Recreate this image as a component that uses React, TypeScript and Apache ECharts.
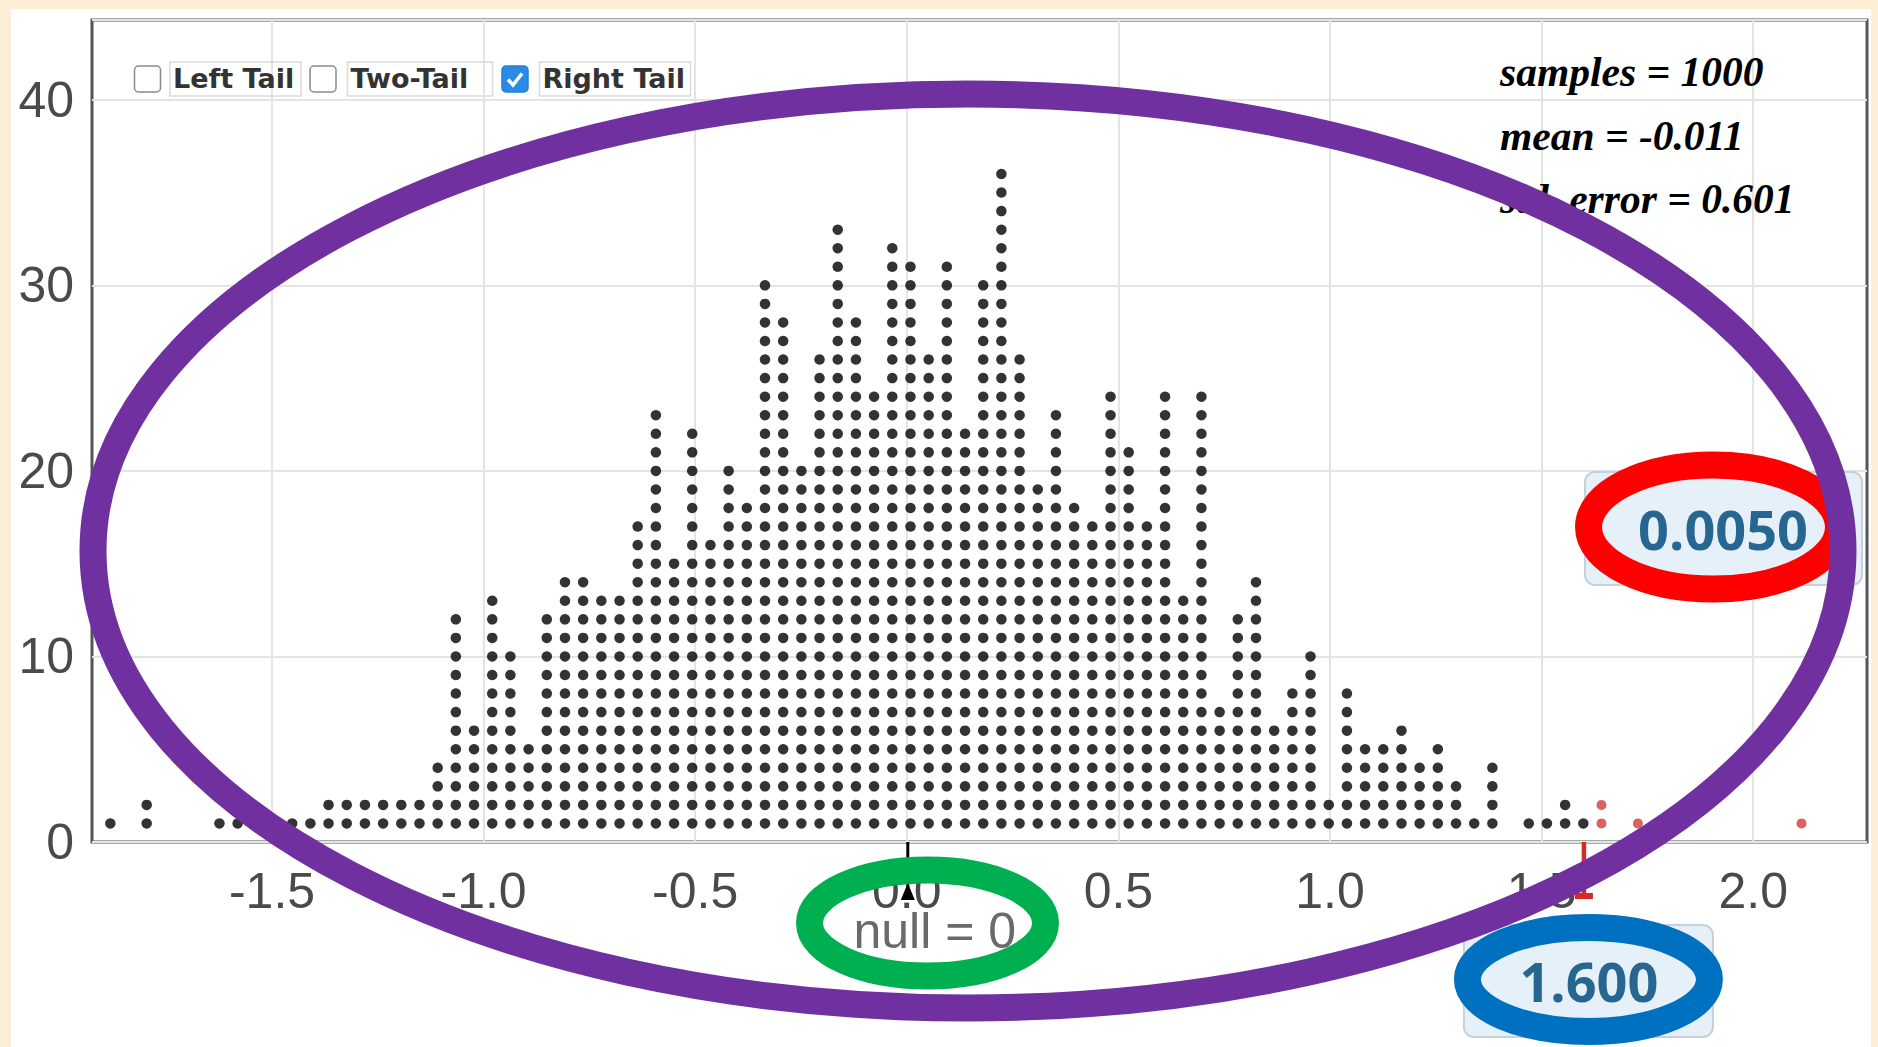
import React, { useEffect, useRef } from "react";
import * as echarts from "echarts";

// ---- data --------------------------------------------------------------
// Dot plot of 1000 resampled statistics: dots stacked per bin.
const BIN_START = -1.882; // centre of the first bin
const BIN_WIDTH = 0.04297; // width of one bin (one dot across)
const BIN_COUNTS = [
  1, 0, 2, 0, 0, 0, 1, 1, 1, 0, 1, 1, 2, 2, 2, 2, 2, 2, 4, 12, 6,
  13, 10, 5, 12, 14, 14, 13, 13, 17, 23, 15, 22, 16, 20, 18, 30, 28, 20, 26,
  33, 28, 24, 32, 31, 26, 31, 22, 30, 36, 26, 19, 23, 18, 17, 24, 21, 17, 24,
  13, 24, 7, 12, 14, 6, 8, 10, 2, 8, 5, 5, 6, 4, 5, 3, 1, 4, 0, 1,
  1, 2, 1, 2, 0, 1, 0, 1, 0, 0, 0, 0, 0, 0, 1,
];
const NULL_VALUE = 0;
const OBSERVED = 1.6;
const MEAN_TEXT = "-0.011";
const STD_ERROR_TEXT = "0.601";
const X_LABEL_RANGE = [-1.5, 2.0];
const Y_MAX = 44.3;
const TAIL_OPTIONS = [
  { label: "Left Tail", checked: false },
  { label: "Two-Tail", checked: false },
  { label: "Right Tail", checked: true },
];

// ---- derived series ------------------------------------------------------
const blackDots: number[][] = [];
const redDots: number[][] = [];
BIN_COUNTS.forEach((n, i) => {
  const x = +(BIN_START + i * BIN_WIDTH).toFixed(4);
  for (let k = 1; k <= n; k++) {
    (x >= OBSERVED ? redDots : blackDots).push([x, k]);
  }
});
const TOTAL = blackDots.length + redDots.length;
const P_VALUE = (redDots.length / TOTAL).toFixed(4);
const STATS_LINES = [
  `samples = ${TOTAL}`,
  `mean = ${MEAN_TEXT}`,
  `std. error = ${STD_ERROR_TEXT}`,
];

const GRID_LINE = "#e4e4e4";
const TICK_FONT = "Liberation Sans";
// the chart surface is wider than the page so the -2.0 … 2.5 data grid fits
const CHART_W = 1980;
const PAGE_W = 1878;
const PAGE_H = 1047;

function baseOption(): echarts.EChartsCoreOption {
  return {
    animation: false,
    backgroundColor: "transparent",
    grid: [
      // data grid: runs from the -2.0 tick to the 2.5 tick (both outside the frame)
      { left: 60.4, top: 20, width: 1904.4, height: 822, show: false },
      // visible plot frame
      {
        left: 92,
        top: 20,
        width: 1775,
        height: 822,
        show: true,
        borderColor: "#555",
        borderWidth: 3,
        backgroundColor: "transparent",
      },
    ],
    xAxis: [
      {
        type: "value",
        gridIndex: 0,
        min: -2,
        max: 2.5,
        interval: 0.5,
        axisLine: { show: false },
        axisTick: { show: false },
        axisLabel: {
          showMinLabel: false,
          showMaxLabel: false,
          margin: 24,
          fontSize: 50,
          lineHeight: 50,
          fontFamily: TICK_FONT,
          color: "#4a4a4a",
          formatter: (v: number) =>
            v < X_LABEL_RANGE[0] - 0.01 || v > X_LABEL_RANGE[1] + 0.01 ? "" : v.toFixed(1),
        },
        splitLine: {
          show: true,
          showMinLine: false,
          showMaxLine: false,
          lineStyle: { color: GRID_LINE, width: 2 },
        },
      },
      { type: "value", gridIndex: 1, min: 0, max: 1, show: false },
    ],
    yAxis: [
      { type: "value", gridIndex: 0, min: 0, max: Y_MAX, show: false },
      {
        type: "value",
        gridIndex: 1,
        min: 0,
        max: Y_MAX,
        interval: 10,
        axisLine: { show: false },
        axisTick: { show: false },
        axisLabel: {
          margin: 18,
          fontSize: 50,
          lineHeight: 50,
          fontFamily: TICK_FONT,
          color: "#4a4a4a",
          showMaxLabel: false,
        },
        splitLine: { show: true, lineStyle: { color: GRID_LINE, width: 2 } },
      },
    ],
    series: [
      {
        type: "scatter",
        xAxisIndex: 0,
        yAxisIndex: 0,
        symbol: "circle",
        symbolSize: 10.5,
        silent: true,
        itemStyle: { color: "#000" },
        data: blackDots,
      },
      {
        type: "scatter",
        xAxisIndex: 0,
        yAxisIndex: 0,
        symbol: "circle",
        symbolSize: 10,
        silent: true,
        itemStyle: { color: "#d23b3b" },
        data: redDots,
      },
    ],
  };
}

function text(x: number, y: number, str: string, style: Record<string, unknown>, z = 60) {
  return {
    type: "text",
    x,
    y,
    z,
    silent: true,
    style: { text: str, ...style },
  };
}

function buildGraphics(nullX: number, obsX: number, axisY: number) {
  const g: any[] = [];

  // tail selector check boxes
  const boxY = 66;
  const boxSize = 26;
  const layout = [
    { box: 134.5, textX: 173, textW: 127 },
    { box: 310, textX: 350.5, textW: 141 },
    { box: 502, textX: 542.5, textW: 147 },
  ];
  TAIL_OPTIONS.forEach((opt, i) => {
    const L = layout[i];
    g.push({
      type: "rect",
      z: 60,
      shape: { x: L.box, y: boxY, width: boxSize, height: boxSize, r: 4 },
      style: opt.checked
        ? { fill: "#2a8be6", stroke: "#2a7fd0", lineWidth: 1.5 }
        : { fill: "#fff", stroke: "#8a8a8a", lineWidth: 1.5 },
    });
    if (opt.checked) {
      g.push({
        type: "polyline",
        z: 61,
        shape: {
          points: [
            [L.box + 6, boxY + 13.5],
            [L.box + 11, boxY + 19],
            [L.box + 20, boxY + 7.5],
          ],
        },
        style: { stroke: "#fff", lineWidth: 3.5, fill: "none" },
      });
    }
    g.push({
      type: "rect",
      z: 59,
      shape: { x: L.textX - 3, y: 62, width: L.textW + 4, height: 34 },
      style: { fill: "none", stroke: "#dadada", lineWidth: 1.5 },
    });
    g.push(
      text(L.textX, 78, opt.label, {
        fill: "#333",
        fontFamily: "DejaVu Sans",
        fontWeight: "bold",
        fontSize: 27,
        align: "left",
        verticalAlign: "middle",
        textAlign: "left",
        textVerticalAlign: "middle",
      })
    );
  });

  // summary statistics
  STATS_LINES.forEach((line, i) => {
    g.push(
      text(1500, 72 + i * 63.5, line, {
        fill: "#000",
        fontFamily: "Liberation Serif",
        fontWeight: "bold",
        fontStyle: "italic",
        fontSize: 41.5,
        align: "left",
        verticalAlign: "middle",
        textAlign: "left",
        textVerticalAlign: "middle",
      })
    );
  });

  // p-value box
  const valueBoxStyle = { fill: "#e6f0f8", stroke: "#c3d2dd", lineWidth: 2 };
  const valueTextStyle = {
    fill: "#266690",
    fontFamily: "Open Sans",
    fontWeight: "bold",
    fontSize: 54,
    align: "center",
    verticalAlign: "middle",
    textAlign: "center",
    textVerticalAlign: "middle",
  };
  g.push({
    type: "rect",
    z: 60,
    shape: { x: 1585, y: 472, width: 277, height: 113, r: 10 },
    style: valueBoxStyle,
  });
  g.push(text(1723, 529, P_VALUE, valueTextStyle, 61));

  // observed statistic marker and box
  g.push({
    type: "line",
    z: 60,
    shape: { x1: obsX, y1: axisY, x2: obsX, y2: axisY + 57 },
    style: { stroke: "#d62a2a", lineWidth: 4.5 },
  });
  g.push({
    type: "rect",
    z: 60,
    shape: { x: obsX - 9, y: axisY + 51, width: 18, height: 6 },
    style: { fill: "#d62a2a" },
  });
  g.push({
    type: "rect",
    z: 60,
    shape: { x: obsX - 120, y: 925, width: 249, height: 112, r: 10 },
    style: valueBoxStyle,
  });
  g.push(text(obsX + 5, 981, OBSERVED.toFixed(3), valueTextStyle, 61));

  // null hypothesis marker
  g.push({
    type: "line",
    z: 60,
    shape: { x1: nullX + 1, y1: axisY, x2: nullX + 1, y2: axisY + 55 },
    style: { stroke: "#000", lineWidth: 3 },
  });
  g.push({
    type: "polygon",
    z: 60,
    shape: {
      points: [
        [nullX - 6, axisY + 58],
        [nullX + 8, axisY + 58],
        [nullX + 1, axisY + 41],
      ],
    },
    style: { fill: "#000" },
  });
  g.push(
    text(nullX + 28, 931, `null = ${NULL_VALUE}`, {
      fill: "#6a6a6a",
      fontFamily: TICK_FONT,
      fontSize: 50,
      align: "center",
      verticalAlign: "middle",
      textAlign: "center",
      textVerticalAlign: "middle",
    })
  );

  // highlight rings
  const ring = (cx: number, cy: number, rx: number, ry: number, color: string, z: number) => ({
    type: "ellipse",
    z,
    silent: true,
    shape: { cx, cy, rx, ry },
    style: { fill: "none", stroke: color, lineWidth: 27 },
  });
  g.push(ring(927.5, 923, 118, 53, "#00b050", 100));
  g.push(ring(1713.5, 527, 125, 62, "#ff0000", 100));
  g.push(ring(obsX + 4.5, 979.5, 121, 52, "#0070c0", 100));
  g.push(ring(968, 551, 875, 457, "#7030a0", 102));

  return g;
}

export default function App() {
  const ref = useRef<HTMLDivElement>(null);

  useEffect(() => {
    if (!ref.current) return;
    const chart = echarts.init(ref.current, null, { renderer: "svg" });
    chart.setOption(baseOption());
    const nullX = chart.convertToPixel({ xAxisIndex: 0 }, NULL_VALUE) as number;
    const obsX = chart.convertToPixel({ xAxisIndex: 0 }, OBSERVED) as number;
    const axisY = chart.convertToPixel({ yAxisIndex: 0 }, 0) as number;
    chart.setOption({ graphic: buildGraphics(nullX, obsX, axisY) });
    return () => chart.dispose();
  }, []);

  return (
    <div
      style={{
        position: "absolute",
        left: 0,
        top: 0,
        width: PAGE_W,
        height: PAGE_H,
        background: "#fcefd8",
        overflow: "hidden",
      }}
    >
      <div
        style={{
          position: "absolute",
          left: 11,
          top: 9,
          width: 1860,
          height: PAGE_H - 9,
          background: "#ffffff",
        }}
      />
      <div
        ref={ref}
        style={{ position: "absolute", left: 0, top: 0, width: CHART_W, height: PAGE_H }}
      />
    </div>
  );
}
